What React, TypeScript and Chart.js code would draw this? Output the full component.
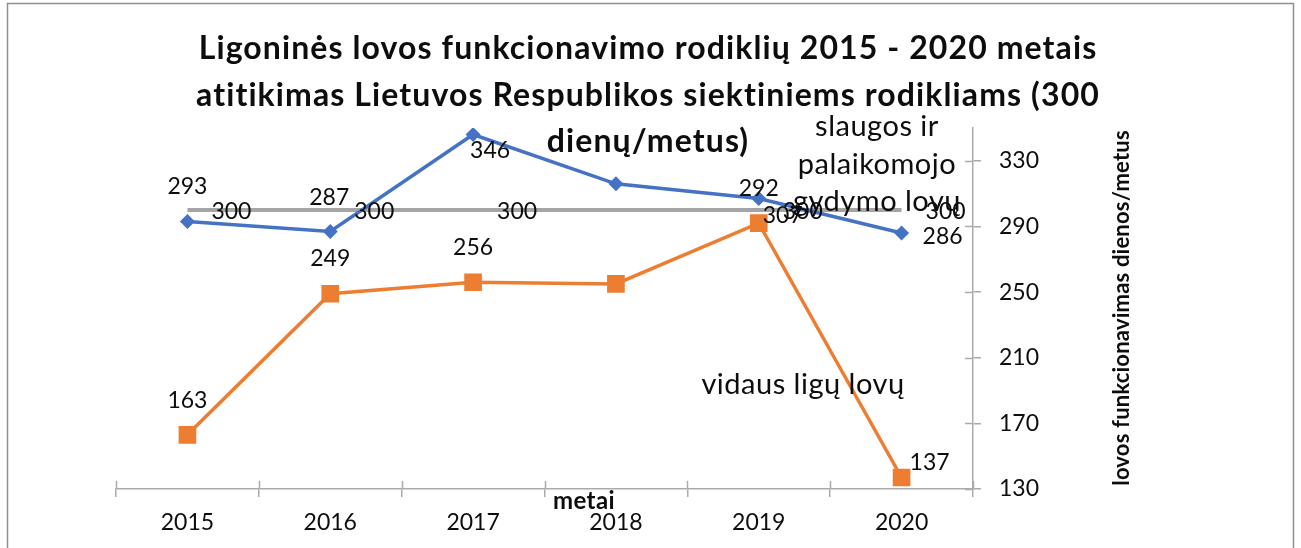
import { useEffect, useRef } from "react";
import { Chart, registerables } from "chart.js";

Chart.register(...registerables);

// ---------- data ----------
const years = ["2015", "2016", "2017", "2018", "2019", "2020"];
const slaugosValues = [293, 287, 346, 316, 307, 286];
const vidausValues = [163, 249, 256, 255, 292, 137];
const targetValues = [300, 300, 300, 300, 300, 300];
const yTickValues = [130, 170, 210, 250, 290, 330];
const hiddenLabelIdx = [3];

const titleLines = [
  "Ligoninės lovos funkcionavimo rodiklių 2015 - 2020 metais",
  "atitikimas Lietuvos Respublikos siektiniems rodikliams (300",
  "dienų/metus)",
];
const slaugosName = ["slaugos ir", "palaikomojo", "gydymo lovų"];
const vidausName = "vidaus ligų lovų";
const xTitle = "metai";
const yTitle = "lovos funkcionavimas dienos/metus";

// ---------- style ----------
const FONT = "Lato, 'Noto Sans', sans-serif";
const BLUE = "#4472C4";
const ORANGE = "#ED7D31";
const GRAY = "#A5A5A5";
const AXIS = "#ABABAB";
const TEXT = "#0d0d0d";

const blueOffsets: (number[] | null)[] = [[0, -35], [-1, -34], [17, 16], null, [24, 17], [41, 4]];
const orangeOffsets: (number[] | null)[] = [[0, -34], [0, -35], [0, -35], null, [0, -35], [28, -15]];
const grayOffset = [44, 2];

const setSpacing = (ctx: any, v: string) => {
  if ("letterSpacing" in ctx) ctx.letterSpacing = v;
};

const decoPlugin = {
  id: "deco",
  beforeDraw(chart: any) {
    const ctx = chart.ctx;
    ctx.save();
    ctx.fillStyle = "#fff";
    ctx.fillRect(0, 0, chart.width, chart.height);
    ctx.strokeStyle = "#8f8f8f";
    ctx.lineWidth = 1.5;
    ctx.strokeRect(7.5, 3.5, 1286, 700);
    ctx.restore();
  },
  beforeDatasetsDraw(chart: any) {
    const ctx = chart.ctx;
    const xs = chart.scales.x;
    const ys = chart.scales.y;
    const area = chart.chartArea;
    ctx.save();
    ctx.strokeStyle = AXIS;
    ctx.lineWidth = 1.5;
    ctx.beginPath();
    for (let i = 0; i <= years.length; i++) {
      const x = Math.round(xs.getPixelForValue(i - 0.5)) + 0.5;
      ctx.moveTo(x, area.bottom);
      ctx.lineTo(x, area.bottom - 8);
    }
    for (const v of yTickValues) {
      const y = Math.round(ys.getPixelForValue(v)) + 0.5;
      ctx.moveTo(area.right, y);
      ctx.lineTo(area.right - 8, y);
    }
    ctx.stroke();
    ctx.restore();
  },
  afterDraw(chart: any) {
    const ctx = chart.ctx;
    ctx.save();
    ctx.fillStyle = TEXT;
    ctx.textAlign = "center";
    ctx.textBaseline = "middle";

    // data labels
    ctx.font = `23px ${FONT}`;
    const drawLabels = (dsIndex: number, values: number[], offs: (number[] | null)[]) => {
      const meta = chart.getDatasetMeta(dsIndex);
      values.forEach((v, j) => {
        const o = offs[j];
        if (!o || hiddenLabelIdx.includes(j)) return;
        const el = meta.data[j];
        ctx.fillText(String(v), el.x + o[0], el.y + o[1]);
      });
    };
    drawLabels(0, slaugosValues, blueOffsets);
    drawLabels(1, vidausValues, orangeOffsets);
    drawLabels(2, targetValues, targetValues.map(() => grayOffset));

    // series name annotations
    ctx.font = `29px ${FONT}`;
    setSpacing(ctx, "0.5px");
    slaugosName.forEach((t, i) => ctx.fillText(t, 877, 127 + i * 37.5));
    ctx.fillText(vidausName, 803, 385);

    // title
    ctx.font = `bold 32px ${FONT}`;
    setSpacing(ctx, "1.1px");
    ctx.textBaseline = "alphabetic";
    titleLines.forEach((t, i) => ctx.fillText(t, 648, 59 + i * 46.5));

    // axis titles
    ctx.textBaseline = "middle";
    ctx.font = `bold 24px ${FONT}`;
    setSpacing(ctx, "0.4px");
    ctx.fillText(xTitle, 584, 501);
    ctx.font = `bold 22px ${FONT}`;
    setSpacing(ctx, "0.2px");
    ctx.translate(1122, 308);
    ctx.rotate(-Math.PI / 2);
    ctx.fillText(yTitle, 0, 0);
    ctx.restore();
  },
};

export default function App() {
  const ref = useRef<HTMLCanvasElement | null>(null);
  useEffect(() => {
    document.body.style.margin = "0";
    const canvas = ref.current;
    if (!canvas) return;
    const chart = new Chart(canvas, {
      type: "line",
      data: {
        labels: years,
        datasets: [
          {
            label: slaugosName.join(" "),
            data: slaugosValues,
            borderColor: BLUE,
            backgroundColor: BLUE,
            borderWidth: 3.5,
            pointStyle: "rectRot",
            pointRadius: 7.5,
            pointHoverRadius: 7.5,
            pointBorderWidth: 0,
            pointBackgroundColor: BLUE,
            tension: 0,
            order: 1,
          },
          {
            label: vidausName,
            data: vidausValues,
            borderColor: ORANGE,
            backgroundColor: ORANGE,
            borderWidth: 3.5,
            pointStyle: "rect",
            pointRadius: 12.5,
            pointHoverRadius: 12.5,
            pointBorderWidth: 0,
            pointBackgroundColor: ORANGE,
            tension: 0,
            order: 2,
          },
          {
            label: "300",
            data: targetValues,
            borderColor: GRAY,
            backgroundColor: GRAY,
            borderWidth: 4,
            pointRadius: 0,
            pointHoverRadius: 0,
            tension: 0,
            order: 3,
          },
        ],
      },
      options: {
        responsive: false,
        animation: false,
        devicePixelRatio: 1,
        layout: { padding: { left: 116, top: 128, right: 248, bottom: 10 } },
        plugins: {
          legend: { display: false },
          title: { display: false },
          tooltip: { enabled: false },
        },
        scales: {
          x: {
            type: "category",
            offset: true,
            grid: {
              offset: true,
              drawOnChartArea: false,
              drawTicks: true,
              tickLength: 8,
              color: AXIS,
              lineWidth: 1.5,
            },
            border: { display: true, color: AXIS, width: 1.5 },
            ticks: {
              color: TEXT,
              font: { family: FONT, size: 23 },
              padding: 12,
              maxRotation: 0,
            },
            afterFit: (s: any) => {
              s.height = 49;
            },
          },
          y: {
            type: "linear",
            position: "right",
            min: 130,
            max: 350,
            afterBuildTicks: (s: any) => {
              s.ticks = yTickValues.map((v) => ({ value: v }));
            },
            grid: {
              drawOnChartArea: false,
              drawTicks: true,
              tickLength: 8,
              color: AXIS,
              lineWidth: 1.5,
            },
            border: { display: true, color: AXIS, width: 1.5 },
            ticks: {
              color: TEXT,
              font: { family: FONT, size: 23 },
              padding: 18,
            },
            afterFit: (s: any) => {
              s.width = 80;
            },
          },
        },
      },
      plugins: [decoPlugin],
    });
    return () => chart.destroy();
  }, []);
  return <canvas ref={ref} width={1301} height={548} style={{ display: "block" }} />;
}
